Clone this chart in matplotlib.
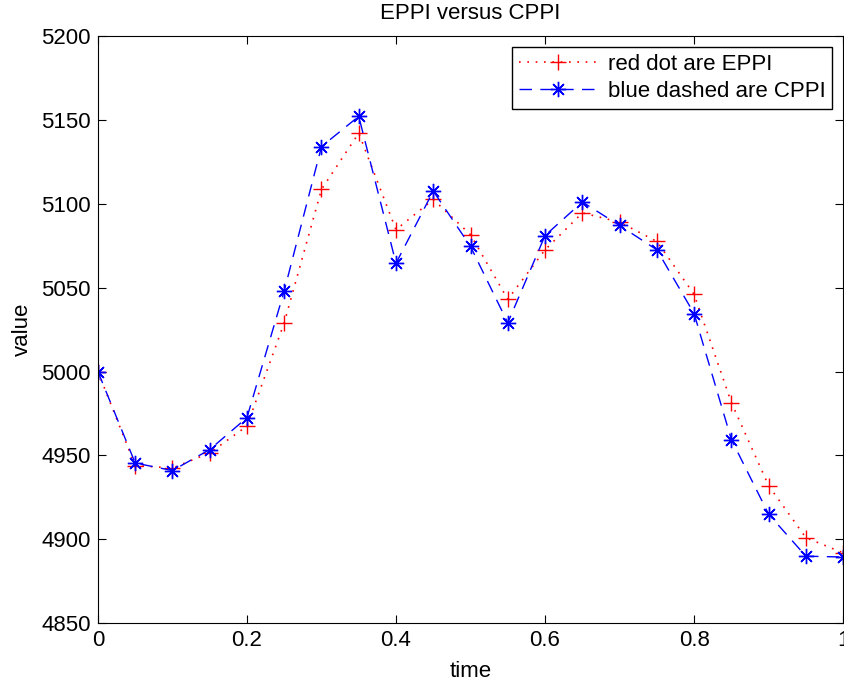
import matplotlib
matplotlib.use("Agg")
import matplotlib.pyplot as plt

# time steps and the two portfolio values
time = [0.0, 0.05, 0.1, 0.15, 0.2, 0.25, 0.3, 0.35, 0.4, 0.45, 0.5,
        0.55, 0.6, 0.65, 0.7, 0.75, 0.8, 0.85, 0.9, 0.95, 1.0]
eppi = [5000, 4944, 4942.5, 4951.5, 4967.5, 5029, 5108.5, 5142, 5084.5, 5102.5, 5081.5,
        5043, 5072.5, 5094.5, 5089, 5077.5, 5046, 4981.5, 4932, 4901, 4892]
cppi = [5000, 4945.5, 4941, 4953.5, 4972.5, 5048, 5134, 5152, 5064.5, 5107.5, 5074.5,
        5029, 5081, 5101, 5087, 5072.5, 5034.5, 4959.5, 4915, 4890, 4889.5]

plt.rcParams['font.family'] = ['Liberation Sans', 'DejaVu Sans']
plt.rcParams['font.size'] = 16

fig = plt.figure(figsize=(8.44, 6.88), dpi=100)
ax = fig.add_axes([0.116, 0.094, 0.883, 0.854])

ax.plot(time, eppi, color='red', linestyle=(0, (1, 4)), marker='+',
        markersize=11, markeredgewidth=1.0, linewidth=1.2, label='red dot are EPPI')
ax.plot(time, cppi, color='blue', linestyle=(0, (9, 6)), marker=(8, 2, 0),
        markersize=11, markeredgewidth=1.0, linewidth=1, label='blue dashed are CPPI')

ax.set_xlim(0, 1)
ax.set_ylim(4850, 5200)
ax.set_xticks([0, 0.2, 0.4, 0.6, 0.8, 1])
ax.set_xticklabels(['0', '0.2', '0.4', '0.6', '0.8', '1'])
ax.tick_params(direction='in', top=True, right=True, length=6, pad=5)
ax.set_title('EPPI versus CPPI', fontsize=16, pad=12)
ax.set_xlabel('time', labelpad=7)
ax.set_ylabel('value', labelpad=6)

ax.legend(loc='upper right', fancybox=False, edgecolor='black', framealpha=1,
          borderaxespad=0.5, handlelength=3.5, borderpad=0.3, labelspacing=0.3,
          handletextpad=0.5)

fig.savefig('out.png', dpi=100)
